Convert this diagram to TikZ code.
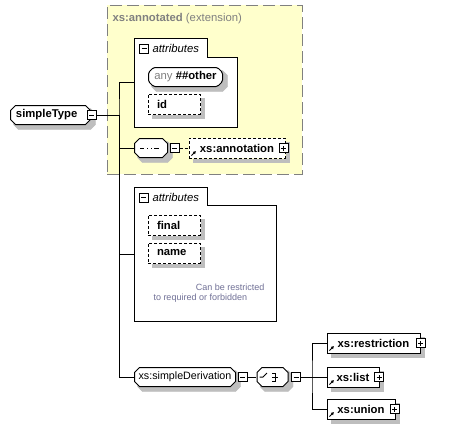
\documentclass[tikz,border=0pt]{standalone}
\usepackage{fontspec}
\setmainfont{Liberation Sans}
\usetikzlibrary{arrows.meta,calc,backgrounds}

\definecolor{extfill}{RGB}{255,255,204}
\definecolor{extline}{RGB}{128,128,128}
\definecolor{shadowtone}{RGB}{190,190,190}
\definecolor{hintblue}{RGB}{112,112,150}

% boxed element, grey shadow strips on the background layer
\newcommand{\elem}[4][]{%
  \node[#1] (#2) at (#3) {#4};
  \begin{scope}[on background layer]
    \draw[shadowtone, line width=4pt] ($(#2.south west)+(4,2)$) -- ($(#2.south east)+(2,2)$) -- ($(#2.north east)+(2,4)$);
  \end{scope}}
% octagon element, same with an octagon shadow
\newcommand{\octelem}[4][]{%
  \node[#1] (#2) at (#3) {#4};
  \begin{scope}[on background layer]
    \filldraw[shadowtone] ($(#2.north west)+(9,4)$) -- ($(#2.north east)+(-1,4)$) -- ($(#2.north east)+(4,9)$)
      -- ($(#2.south east)+(4,-1)$) -- ($(#2.south east)+(-1,4)$) -- ($(#2.south west)+(9,4)$)
      -- ($(#2.south west)+(4,-1)$) -- ($(#2.north west)+(4,9)$) -- cycle;
  \end{scope}}

% compositor icons, drawn inside the octagon
\newcommand{\octicon}{}
\newcommand{\seqicon}{%
  \draw (path picture bounding box.center) ++(-11pt,0pt) -- ++(19pt,0pt);
  \fill (path picture bounding box.center) ++(-6.8pt,-1.3pt) rectangle ++(2.6pt,2.6pt);
  \fill (path picture bounding box.center) ++(-3.1pt,-1.3pt) rectangle ++(2.6pt,2.6pt);
  \fill (path picture bounding box.center) ++(0.6pt,-1.3pt) rectangle ++(2.6pt,2.6pt);}
\newcommand{\choiceicon}{%
  \draw (path picture bounding box.center) ++(-13pt,0pt) -- ++(3.5pt,0pt) -- ++(4pt,4pt);
  \fill (path picture bounding box.center) ++(-3.5pt,3pt) rectangle ++(2pt,2pt);
  \fill (path picture bounding box.center) ++(-3.5pt,-1pt) rectangle ++(2pt,2pt);
  \fill (path picture bounding box.center) ++(-3.5pt,-5pt) rectangle ++(2pt,2pt);
  \draw (path picture bounding box.center) ++(-0.5pt,4pt) -- ++(3pt,0pt) -- ++(0pt,-8pt) -- ++(-3pt,0pt);
  \draw (path picture bounding box.center) ++(-0.5pt,0pt) -- ++(6pt,0pt);}

\begin{document}
\begin{tikzpicture}[x=1pt, y=-1pt,
                    line width=1pt,
                    inner sep=0pt,
                    ]
    \tikzstyle{element}=[rectangle,draw,fill=white,minimum height=20pt,font=\fontsize{11.3}{13}\selectfont\bfseries]
    \tikzstyle{optional}=[element,dash pattern=on 3pt off 2pt]
    \tikzstyle{attribute}=[optional,text width=34pt,inner xsep=9pt,align=left]
    \tikzstyle{reference}=[element,path picture={
        \draw[solid,-{Latex[length=3pt,width=3.5pt]}] (path picture bounding box.south west) ++(2.5pt,2.5pt) -- ++(4.5pt,4.5pt);}]
    \tikzstyle{optref}=[reference,dash pattern=on 3pt off 2pt]
    \tikzstyle{octa}=[element,draw=none,fill=none,path picture={
        \filldraw[fill=white,draw=black]
            ([xshift=5.5pt,yshift=-0.5pt]path picture bounding box.north west)
         -- ([xshift=-5.5pt,yshift=-0.5pt]path picture bounding box.north east)
         -- ([xshift=-0.5pt,yshift=-5.5pt]path picture bounding box.north east)
         -- ([xshift=-0.5pt,yshift=5.5pt]path picture bounding box.south east)
         -- ([xshift=-5.5pt,yshift=0.5pt]path picture bounding box.south east)
         -- ([xshift=5.5pt,yshift=0.5pt]path picture bounding box.south west)
         -- ([xshift=0.5pt,yshift=5.5pt]path picture bounding box.south west)
         -- ([xshift=0.5pt,yshift=-5.5pt]path picture bounding box.north west) -- cycle;
        \octicon}]
    \tikzstyle{wildcard}=[octa,rounded corners=1.5pt]
    \tikzstyle{sequence}=[octa,/utils/exec={\let\octicon\seqicon}]
    \tikzstyle{choice}=[octa,/utils/exec={\let\octicon\choiceicon}]
    \tikzstyle{toggle}=[rectangle,draw,fill=white,minimum size=9pt,path picture={
        \draw (path picture bounding box.west) ++(2pt,0pt) -- ++(5pt,0pt);}]
    \tikzstyle{expand}=[toggle,path picture={
        \draw (path picture bounding box.west) ++(2pt,0pt) -- ++(5pt,0pt);
        \draw (path picture bounding box.south) ++(0pt,2pt) -- ++(0pt,5pt);}]
    \tikzstyle{group}=[rectangle,anchor=north west]
    \tikzstyle{groupline}=[draw,fill=white]
    \tikzstyle{heading}=[anchor=west,font=\fontsize{11.3}{13}\selectfont\itshape]
    \tikzstyle{extension}=[rectangle,anchor=north west,draw=extline,fill=extfill,dash pattern=on 12pt off 5pt]
    \tikzstyle{hint}=[text=hintblue,font=\fontsize{9}{11}\selectfont]
    \tikzstyle{wire}=[draw]

    \useasboundingbox (0,0) rectangle (449,429);

    % base type box
    \begin{scope}[on background layer]
        \node[extension, minimum width=195pt, minimum height=169pt] (ext) at (107,5) {};
    \end{scope}
    \node[anchor=west, text=extline, font=\fontsize{11.3}{13}\selectfont] (extl) at (112,19) {\textbf{xs:annotated} (extension)};

    \octelem[octa, text width=69pt, inner xsep=6pt, align=left]{st}{50.5,115}{simpleType}
    \node[toggle] (stm) at (st.east) {};

    % first attribute group
    \node[group, minimum width=102pt, minimum height=88pt] (attrA) at (134,38) {};
    \begin{scope}[on background layer]
        \draw[groupline] (attrA.north west) -- ++(73pt,0pt) |- ([yshift=-19pt]attrA.north east) -- (attrA.south east) -- (attrA.south west) -- cycle;
    \end{scope}
    \node[toggle] (attrAm) at (144,48.5) {};
    \node[heading] (attrAl) at (152,48) {attributes};
    \octelem[wildcard, minimum width=75pt]{anyO}{185.5,77}{\textcolor{extline}{\mdseries any} \#\#other}
    \elem[attribute]{idA}{174,104}{id}

    % sequence
    \octelem[sequence, minimum width=34pt]{seq}{151,148}{}
    \node[toggle, anchor=west] (seqm) at ([xshift=1pt]seq.east) {};
    \elem[optref, minimum width=96pt]{ann}{237,148}{xs:annotation}
    \node[expand] (annp) at ([xshift=-2pt]ann.east) {};

    % second attribute group
    \node[group, minimum width=141pt, minimum height=133pt] (attrB) at (134,187) {};
    \begin{scope}[on background layer]
        \draw[groupline] (attrB.north west) -- ++(73pt,0pt) |- ([yshift=-18pt]attrB.north east) -- (attrB.south east) -- (attrB.south west) -- cycle;
    \end{scope}
    \node[toggle] (attrBm) at (143.5,197.5) {};
    \node[heading] (attrBl) at (152,197) {attributes};
    \elem[attribute]{final}{174,225}{final}
    \elem[attribute]{name}{174,253}{name}
    \node[hint, anchor=east] (hintA) at (265,287) {Can be restricted};
    \node[hint, anchor=west] (hintB) at (153,298) {to required or forbidden};

    % derivation
    \octelem[octa, minimum width=102pt, font=\fontsize{10.7}{13}\selectfont]{sd}{185,377}{xs:simpleDerivation}
    \node[toggle, anchor=west] (sdm) at ([xshift=1pt]sd.east) {};
    \octelem[choice, minimum width=32pt]{ch}{272.5,377}{}
    \node[toggle, anchor=west] (chm) at ([xshift=2pt]ch.east) {};
    \elem[reference, minimum width=93pt]{restr}{373.5,343}{xs:restriction}
    \node[expand] (restrp) at (restr.east) {};
    \elem[reference, minimum width=52pt]{list}{353,377}{xs:list}
    \node[expand] (listp) at ([xshift=-0.5pt]list.east) {};
    \elem[reference, minimum width=68pt]{union}{361,409}{xs:union}
    \node[expand] (unionp) at ([xshift=-1pt]union.east) {};

    % connectors
    \coordinate (fork) at (119,115);
    \draw[wire] (stm.east) -- (fork);
    \draw[wire] (attrA.west) -| (fork) |- (sd.west);
    \draw[wire] (fork) |- (seq.west);
    \draw[wire] (fork) |- (attrB.west);
    \draw[wire, dash pattern=on 3pt off 2pt] (seqm.east) -- (ann.west);
    \draw[wire] (sdm.east) -- (ch.west);
    \coordinate (cfork) at (312,377);
    \draw[wire] (chm.east) -- (cfork);
    \draw[wire] (restr.west) -| (cfork) |- (union.west);
    \draw[wire] (cfork) -- (list.west);
\end{tikzpicture}
\end{document}
